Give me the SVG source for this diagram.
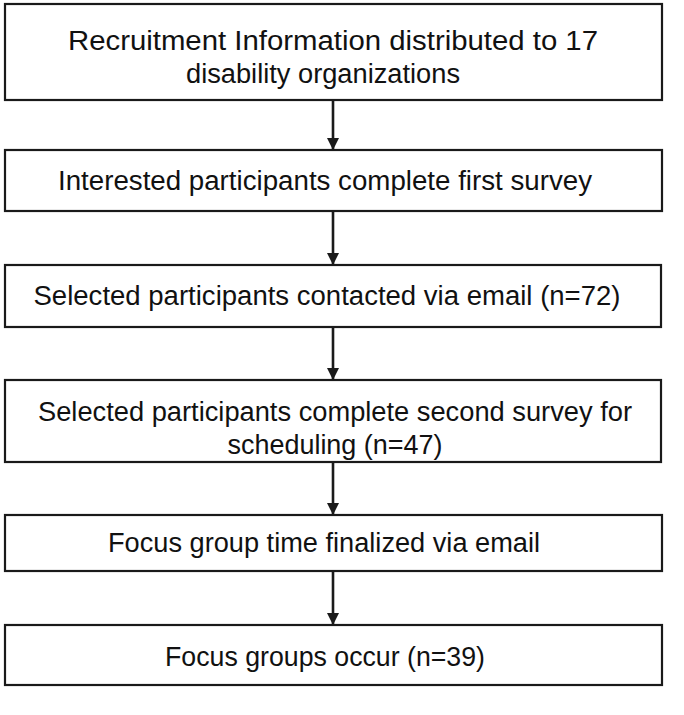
<svg xmlns="http://www.w3.org/2000/svg" width="684" height="715" viewBox="0 0 684 715">
<defs>
<style>
.box{fill:#fff;stroke:#1a1a1a;stroke-width:2.2}
.t{font-family:"Liberation Sans","DejaVu Sans",sans-serif;font-size:27px;fill:#111;text-anchor:middle}
.c{stroke:#1a1a1a;stroke-width:2.6;fill:none}
</style>
<marker id="ah" markerWidth="12" markerHeight="12" refX="11" refY="6" orient="auto" markerUnits="userSpaceOnUse" viewBox="0 0 12 12">
<path d="M0,0 L12,6 L0,12 Z" fill="#1a1a1a"/>
</marker>
</defs>
<rect width="684" height="715" fill="#fff"/>
<g id="connectors">
<line class="c" x1="333" y1="100" x2="333" y2="149" marker-end="url(#ah)"/>
<line class="c" x1="333" y1="211" x2="333" y2="264" marker-end="url(#ah)"/>
<line class="c" x1="333" y1="327" x2="333" y2="379" marker-end="url(#ah)"/>
<line class="c" x1="333" y1="462" x2="333" y2="514" marker-end="url(#ah)"/>
<line class="c" x1="333" y1="571" x2="333" y2="624" marker-end="url(#ah)"/>
</g>
<g id="n1">
<rect class="box" x="5" y="4" width="657" height="96"/>
<text class="t" x="333" y="50" textLength="530" lengthAdjust="spacingAndGlyphs">Recruitment Information distributed to 17</text>
<text class="t" x="323" y="83" textLength="274" lengthAdjust="spacingAndGlyphs">disability organizations</text>
</g>
<g id="n2">
<rect class="box" x="5" y="150" width="657" height="61"/>
<text class="t" x="325" y="190" textLength="534" lengthAdjust="spacingAndGlyphs">Interested participants complete first survey</text>
</g>
<g id="n3">
<rect class="box" x="5" y="265" width="656" height="62"/>
<text class="t" x="327" y="305" textLength="587" lengthAdjust="spacingAndGlyphs">Selected participants contacted via email (n=72)</text>
</g>
<g id="n4">
<rect class="box" x="5" y="380" width="656" height="82"/>
<text class="t" x="335" y="421" textLength="594" lengthAdjust="spacingAndGlyphs">Selected participants complete second survey for</text>
<text class="t" x="335" y="454" textLength="215" lengthAdjust="spacingAndGlyphs">scheduling (n=47)</text>
</g>
<g id="n5">
<rect class="box" x="5" y="515" width="657" height="56"/>
<text class="t" x="324" y="552" textLength="432" lengthAdjust="spacingAndGlyphs">Focus group time finalized via email</text>
</g>
<g id="n6">
<rect class="box" x="5" y="625" width="657" height="60"/>
<text class="t" x="325" y="666" textLength="320" lengthAdjust="spacingAndGlyphs">Focus groups occur (n=39)</text>
</g>
</svg>
